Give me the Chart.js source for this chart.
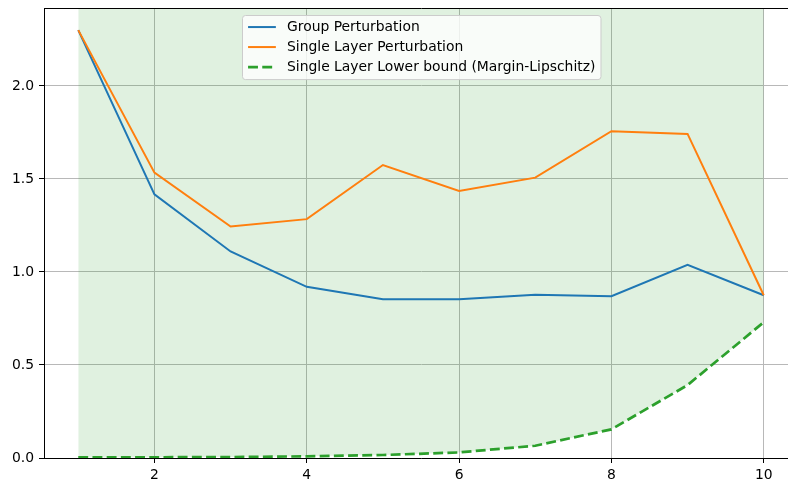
<!DOCTYPE html>
<html>
<head>
<meta charset="utf-8">
<script src="https://cdn.jsdelivr.net/npm/chart.js@4/dist/chart.umd.min.js"></script>
<style>
  html, body { margin: 0; padding: 0; background: #fff; overflow: hidden; width: 788px; height: 481px; }
  canvas { display: block; }
</style>
</head>
<body>
<canvas id="chart" width="810" height="481"></canvas>
<script>
// Data
const layers = [1, 2, 3, 4, 5, 6, 7, 8, 9, 10];
const groupPerturbation = [2.30, 1.417, 1.110, 0.920, 0.853, 0.853, 0.877, 0.870, 1.038, 0.875];
const singlePerturbation = [2.30, 1.534, 1.244, 1.284, 1.575, 1.436, 1.507, 1.757, 1.742, 0.875];
const lowerBound = [0.003, 0.004, 0.005, 0.009, 0.016, 0.030, 0.066, 0.154, 0.392, 0.730];
const seriesLabels = [
    'Group Perturbation',
    'Single Layer Perturbation',
    'Single Layer Lower bound (Margin-Lipschitz)'
];
const xTicks = [2, 4, 6, 8, 10];
const yTicks = [0, 0.5, 1.0, 1.5, 2.0];

const FONT = '"DejaVu Sans", sans-serif';
const FONT_SIZE = 13.9;

// Legend drawn inside the axes, matplotlib style
const insideLegend = {
    id: 'insideLegend',
    afterDraw(chart) {
        const ctx = chart.ctx;
        const area = chart.chartArea;
        const fs = FONT_SIZE;
        ctx.save();
        ctx.font = `${fs}px ${FONT}`;
        const textW = Math.max(...seriesLabels.map(l => ctx.measureText(l).width));
        const pad = 0.4 * fs, handleLen = 2 * fs, handlePad = 0.8 * fs, rowH = 20;
        const boxW = pad * 2 + handleLen + handlePad + textW;
        const boxH = pad * 2 + rowH * seriesLabels.length - 7;
        const boxX = Math.round((area.left + area.right) / 2 - boxW / 2) + 0.5;
        const boxY = Math.round(area.top + 0.5 * fs) + 0.5;

        ctx.beginPath();
        ctx.roundRect(boxX, boxY, boxW, boxH, 3);
        ctx.fillStyle = 'rgba(255,255,255,0.8)';
        ctx.fill();
        ctx.strokeStyle = '#cccccc';
        ctx.lineWidth = 1;
        ctx.stroke();

        [0, 1, 2].forEach((i, row) => {
            const ds = chart.data.datasets[i];
            const y = boxY + pad + 6 + row * rowH;
            ctx.beginPath();
            ctx.setLineDash(ds.borderDash || []);
            ctx.strokeStyle = ds.borderColor;
            ctx.lineWidth = ds.borderWidth;
            ctx.moveTo(boxX + pad, y);
            ctx.lineTo(boxX + pad + handleLen, y);
            ctx.stroke();
            ctx.setLineDash([]);
            ctx.fillStyle = '#000';
            ctx.textBaseline = 'middle';
            ctx.textAlign = 'left';
            ctx.fillText(ds.label, boxX + pad + handleLen + handlePad, y + 0.5);
        });
        ctx.restore();
    }
};

// Top and right spines
const frame = {
    id: 'frame',
    afterDatasetsDraw(chart) {
        const { ctx, chartArea: a } = chart;
        ctx.save();
        ctx.strokeStyle = '#000';
        ctx.lineWidth = 1;
        ctx.beginPath();
        ctx.moveTo(Math.round(a.left) + 0.5, Math.round(a.top) + 0.5);
        ctx.lineTo(Math.round(a.right) + 0.5, Math.round(a.top) + 0.5);
        ctx.lineTo(Math.round(a.right) + 0.5, Math.round(a.bottom) + 0.5);
        ctx.stroke();
        ctx.restore();
    }
};

function noScalePadding(scale) {
    scale.paddingTop = 0;
    scale.paddingBottom = 0;
    scale.paddingLeft = 0;
    scale.paddingRight = 0;
}

new Chart(document.getElementById('chart'), {
    type: 'line',
    data: {
        labels: layers,
        datasets: [
            {
                label: seriesLabels[0],
                data: groupPerturbation,
                borderColor: '#1f77b4',
                borderWidth: 2,
                pointRadius: 0,
                tension: 0,
                fill: false,
                order: 2
            },
            {
                label: seriesLabels[1],
                data: singlePerturbation,
                borderColor: '#ff7f0e',
                borderWidth: 2,
                pointRadius: 0,
                tension: 0,
                fill: false,
                order: 1
            },
            {
                label: seriesLabels[2],
                data: lowerBound,
                borderColor: '#2ca02c',
                borderWidth: 2.7,
                borderDash: [9.9, 4.3],
                backgroundColor: 'rgba(44,160,44,0.15)',
                pointRadius: 0,
                tension: 0,
                fill: 'end',
                order: 0
            }
        ]
    },
    options: {
        responsive: false,
        animation: false,
        layout: { padding: { left: 0, top: 8, right: 12, bottom: 0 } },
        plugins: {
            legend: { display: false },
            tooltip: { enabled: false },
            filler: { drawTime: 'beforeDatasetsDraw' }
        },
        scales: {
            x: {
                type: 'linear',
                min: 0.55,
                max: 10.45,
                afterFit(scale) { scale.height = 23; noScalePadding(scale); },
                afterBuildTicks(scale) { scale.ticks = xTicks.map(v => ({ value: v })); },
                ticks: {
                    color: '#000',
                    padding: 4,
                    maxRotation: 0,
                    font: { family: FONT, size: FONT_SIZE },
                    callback: v => String(v)
                },
                grid: {
                    color: '#b8b8b8',
                    lineWidth: 1,
                    drawTicks: true,
                    tickLength: 5,
                    tickColor: '#000'
                },
                border: { color: '#000', width: 1 }
            },
            y: {
                type: 'linear',
                min: 0,
                max: 2.419,
                afterFit(scale) { scale.width = 44; noScalePadding(scale); },
                afterBuildTicks(scale) { scale.ticks = yTicks.map(v => ({ value: v })); },
                ticks: {
                    color: '#000',
                    padding: 5,
                    font: { family: FONT, size: FONT_SIZE },
                    callback: v => v.toFixed(1)
                },
                grid: {
                    color: '#b8b8b8',
                    lineWidth: 1,
                    drawTicks: true,
                    tickLength: 5,
                    tickColor: '#000'
                },
                border: { color: '#000', width: 1 }
            }
        }
    },
    plugins: [insideLegend, frame]
});
</script>
</body>
</html>
